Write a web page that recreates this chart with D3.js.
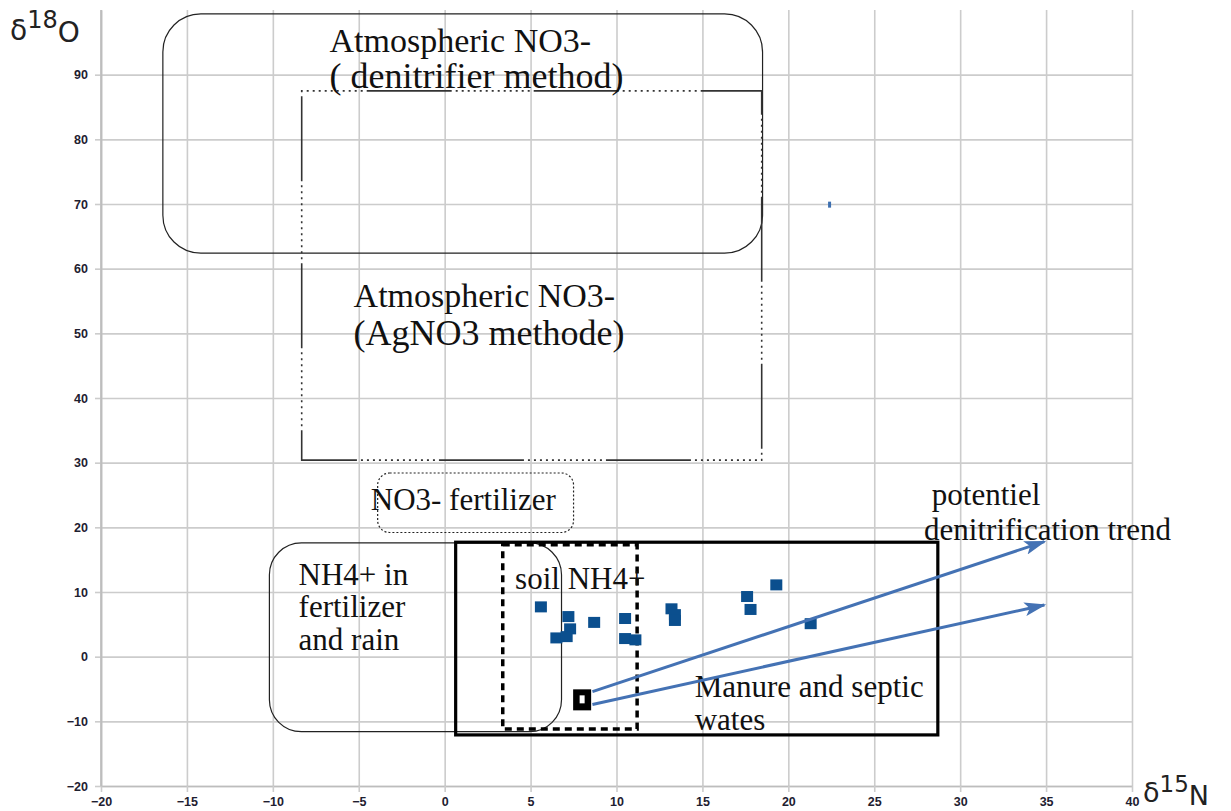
<!DOCTYPE html>
<html>
<head>
<meta charset="utf-8">
<script src="https://cdn.jsdelivr.net/npm/d3@7"></script>
<style>
  body { margin: 0; background: #fff; }
  svg { display: block; }
  .tick text { font-family: "Liberation Sans", Arial, sans-serif; font-weight: bold; font-size: 12.5px; fill: #1e2030; }
  .note { font-family: "Liberation Serif", "Times New Roman", serif; fill: #111; }
</style>
</head>
<body>
<svg width="1231" height="811"></svg>
<script>
// samples (d15N, d18O)
var sampleN = [5.6, 6.5, 7.2, 7.3, 7.1, 8.7, 10.5, 10.5, 11.1, 13.2, 13.4, 13.4, 17.6, 17.8, 19.3, 21.3];
var sampleO = [7.7, 2.9, 6.2, 4.3, 3.1, 5.3, 5.9, 2.8, 2.6, 7.4, 6.5, 5.6, 9.3, 7.3, 11.1, 5.1];
var stray = [22.4, 69.9];
var manurePoint = [8.0, -6.6];

// trend arrows [x1, y1, x2, y2]
var trends = [[8.6, -5.4, 34.9, 17.8], [8.6, -7.4, 34.9, 8.0]];

// source fields [x1, y1, x2, y2]
var atmoDenit = [-16.4, 62.4, 18.5, 99.4];
var atmoAg = [-8.32, 30.4, 18.45, 87.5];
var no3Fert = [-3.9, 19.2, 7.5, 28.4];
var nh4Rain = [-10.2, -11.6, 6.8, 17.6];
var manureBox = [0.64, -12.1, 28.7, 17.7];
var soilBox = [3.38, -11.2, 11.2, 17.3];

var xTicks = d3.range(-20, 41, 5);
var yTicks = d3.range(-20, 91, 10);

var svg = d3.select('svg');
var x = d3.scaleLinear().domain([-20, 40]).range([101, 1132]);
var y = d3.scaleLinear().domain([-20, 100]).range([786, 10]);

// grid
svg.append('g')
  .attr('transform', 'translate(0,' + y(-20) + ')')
  .call(d3.axisBottom(x).tickValues(xTicks).tickSize(-(y(-20) - y(100))).tickFormat(''))
  .call(function(g) { g.select('.domain').remove(); });
svg.append('g')
  .attr('transform', 'translate(' + x(-20) + ',0)')
  .call(d3.axisLeft(y).tickValues(yTicks).tickSize(-(x(40) - x(-20))).tickFormat(''))
  .call(function(g) { g.select('.domain').remove(); });

// axes with labels
svg.append('g')
  .attr('transform', 'translate(0,' + y(-20) + ')')
  .call(d3.axisBottom(x).tickValues(xTicks).tickSize(6).tickSizeOuter(0).tickPadding(5));
svg.append('g')
  .attr('transform', 'translate(' + x(-20) + ',0)')
  .call(d3.axisLeft(y).tickValues(yTicks).tickSize(6).tickSizeOuter(0).tickPadding(7));

svg.selectAll('.tick line').attr('stroke', '#cccccc').attr('stroke-width', 1.6);
svg.selectAll('.domain').attr('stroke', '#bdbdbd').attr('stroke-width', 1.6);
svg.append('line')
  .attr('x1', x(-20)).attr('x2', x(-20))
  .attr('y1', y(100)).attr('y2', y(-20))
  .attr('stroke', '#bdbdbd').attr('stroke-width', 1.6);

// boxes
var rbox = function(b, r) {
  return svg.append('rect')
    .attr('x', x(b[0])).attr('y', y(b[3]))
    .attr('width', x(b[2]) - x(b[0])).attr('height', y(b[1]) - y(b[3]))
    .attr('rx', r).attr('ry', r)
    .attr('fill', 'none').attr('stroke', '#222');
};
rbox(atmoDenit, 38).attr('stroke-width', 1.2);
rbox(no3Fert, 12).attr('stroke-width', 1.2).attr('stroke-dasharray', '2,2');
rbox(nh4Rain, 32).attr('stroke-width', 1.2);
rbox(manureBox, 0).attr('stroke', '#000').attr('stroke-width', 3.2);
rbox(soilBox, 0).attr('stroke', '#000').attr('stroke-width', 3.5).attr('stroke-dasharray', '7,5');

// AgNO3 box: long dash then dotted run
var dashes = [85];
for (var i = 0; i < 13; i++) dashes.push(4, 2);
dashes.push(4);
var p = d3.path();
p.moveTo(x(atmoAg[0]), y(atmoAg[3]));
p.lineTo(x(atmoAg[2]), y(atmoAg[3]));
p.lineTo(x(atmoAg[2]), y(atmoAg[1]));
p.lineTo(x(atmoAg[0]), y(atmoAg[1]));
p.closePath();
svg.append('path')
  .attr('d', p.toString())
  .attr('fill', 'none').attr('stroke', '#333').attr('stroke-width', 1.6)
  .attr('stroke-dasharray', dashes.join(','))
  .attr('stroke-dashoffset', 102);

// annotations
var notes = [
  { t: 'Atmospheric NO3-', x: -6.7, y: 93.5, s: 34 },
  { t: '( denitrifier method)', x: -6.7, y: 87.9, s: 36 },
  { t: 'Atmospheric NO3-', x: -5.3, y: 54.1, s: 34 },
  { t: '(AgNO3 methode)', x: -5.3, y: 48.2, s: 36 },
  { t: 'NO3- fertilizer', x: -4.3, y: 22.7, s: 31 },
  { t: 'NH4+ in', x: -8.5, y: 11.1, s: 31 },
  { t: 'fertilizer', x: -8.5, y: 6.1, s: 31 },
  { t: 'and rain', x: -8.5, y: 1.0, s: 31 },
  { t: 'soil NH4+', x: 4.1, y: 10.4, s: 31 },
  { t: 'Manure and septic', x: 14.55, y: -6.3, s: 31 },
  { t: 'wates', x: 14.55, y: -11.3, s: 31 },
  { t: 'potentiel', x: 28.35, y: 23.5, s: 31 },
  { t: 'denitrification trend', x: 27.9, y: 18.1, s: 31 }
];
svg.selectAll('text.note')
  .data(notes)
  .enter()
  .append('text')
  .classed('note', true)
  .attr('x', function(d) { return x(d.x); })
  .attr('y', function(d) { return y(d.y); })
  .attr('font-size', function(d) { return d.s + 'px'; })
  .text(function(d) { return d.t; });

// samples
var samples = sampleN.map(function(n, i) { return [n, sampleO[i]]; });
svg.selectAll('rect.pt')
  .data(samples)
  .enter()
  .append('rect')
  .classed('pt', true)
  .attr('x', function(d) { return x(d[0]) - 6; })
  .attr('y', function(d) { return y(d[1]) - 5.5; })
  .attr('width', 12).attr('height', 11)
  .attr('fill', '#0b4f8e');

svg.append('rect')
  .attr('x', x(stray[0]) - 1.5).attr('y', y(stray[1]) - 3)
  .attr('width', 3).attr('height', 6)
  .attr('fill', '#3d6fb0');

// arrows
svg.append('defs').append('marker')
  .attr('id', 'head')
  .attr('markerUnits', 'userSpaceOnUse')
  .attr('markerWidth', 24).attr('markerHeight', 14)
  .attr('refX', 20).attr('refY', 7)
  .attr('orient', 'auto')
  .append('path')
  .attr('d', 'M0,0 L22,7 L0,14 L5,7 Z')
  .attr('fill', '#4472b4');

svg.selectAll('line.trend')
  .data(trends)
  .enter()
  .append('line')
  .classed('trend', true)
  .attr('x1', function(d) { return x(d[0]); })
  .attr('y1', function(d) { return y(d[1]); })
  .attr('x2', function(d) { return x(d[2]); })
  .attr('y2', function(d) { return y(d[3]); })
  .attr('stroke', '#4472b4')
  .attr('stroke-width', 3)
  .attr('marker-end', 'url(#head)');

// manure marker
svg.append('rect')
  .attr('x', x(manurePoint[0]) - 9).attr('y', y(manurePoint[1]) - 10)
  .attr('width', 18).attr('height', 21)
  .attr('fill', '#000');
svg.append('rect')
  .attr('x', x(manurePoint[0]) - 2.5).attr('y', y(manurePoint[1]) - 4)
  .attr('width', 5).attr('height', 8)
  .attr('fill', '#fff');

// axis titles
var t1 = svg.append('text').attr('x', 10).attr('y', 40)
  .style('font-family', '"DejaVu Sans", sans-serif').attr('fill', '#222');
t1.append('tspan').attr('font-size', '28px').text('δ');
t1.append('tspan').attr('font-size', '24px').attr('dy', -12).text('18');
t1.append('tspan').attr('font-size', '28px').attr('dy', 14).text('O');

var t2 = svg.append('text').attr('x', 1143).attr('y', 802)
  .style('font-family', '"DejaVu Sans", sans-serif').attr('fill', '#222');
t2.append('tspan').attr('font-size', '27px').text('δ');
t2.append('tspan').attr('font-size', '23px').attr('dy', -10).text('15');
t2.append('tspan').attr('font-size', '27px').attr('dy', 13).text('N');
</script>
</body>
</html>
